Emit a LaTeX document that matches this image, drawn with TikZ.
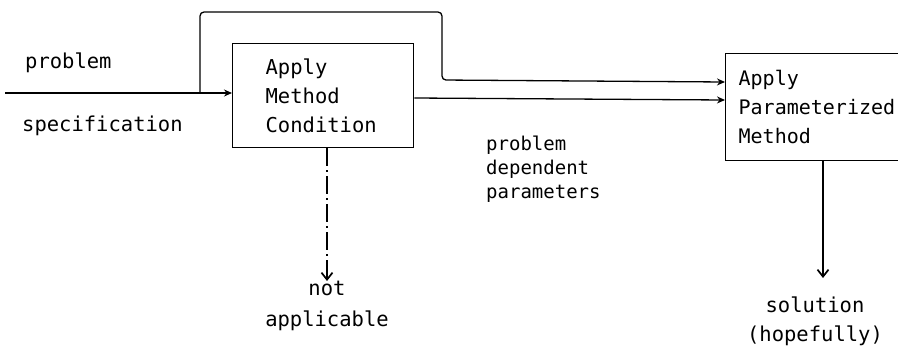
\documentclass[tikz,border=0pt]{standalone}
\usepackage{fontspec}
\setmonofont{DejaVu Sans Mono}
\usetikzlibrary{arrows.meta}
\newcommand\dgfont{\ttfamily\fontsize{20.5}{29}\selectfont}
\newcommand\dgboxtwofont{\ttfamily\fontsize{20}{29}\selectfont}
\newcommand\dgmidfont{\ttfamily\fontsize{19}{24}\selectfont}
\newcommand\dgbotfont{\ttfamily\fontsize{20.5}{31}\selectfont}
\begin{document}
\begin{tikzpicture}[x=1pt,y=-1pt,
  box/.style={draw, line width=1.3pt, rectangle, anchor=north west, align=left, font=\dgfont, inner ysep=0pt},
  lbl/.style={font=\dgfont, align=center, inner sep=0pt},
  conn/.style={line width=1.3pt, -{Stealth[length=8pt,width=7pt]}},
  outconn/.style={line width=1.3pt, -{Straight Barb[length=7pt,width=11pt,line width=1.7pt]}},
  ]
\clip (0,0) rectangle (898,346);
\fill[white] (0,0) rectangle (898,346);

% boxes
\node[box, inner xsep=33pt, text width=115pt, minimum height=104pt] (b1) at (232,43)
  {Apply\\Method\\Condition};
\node[box, font=\dgboxtwofont, inner xsep=13pt, text width=200pt, minimum height=107pt] (b2) at (725,53)
  {Apply\\Parameterized\\Method};

% labels
\node[lbl, anchor=base west] (lp) at (25,68) {problem};
\node[lbl, anchor=base west] (ls) at (22,131) {specification};
\node[font=\dgmidfont, align=left, inner sep=0pt, anchor=north west] (lm) at (486,136)
  {problem\\dependent\\parameters};
\node[lbl, font=\dgbotfont, anchor=north] (na) at (327,281) {not\\applicable};
\node[lbl, anchor=north] (sol) at (815,297) {solution\\(hopefully)};

% connectors
\coordinate (in) at (5,93);
\coordinate (fb) at (200,93);
\draw[conn] (in) -- (in -| b1.west);
\draw[conn, rounded corners=4pt] (fb) -- (200,12) -- (442,12) -- (442,80) -- (b2.west |- 0,82);
\draw[conn] (b1.east |- 0,98) -- (b2.west |- 0,100);
\draw[outconn, dash pattern=on 18pt off 4pt on 2pt off 4pt] (b1.south -| na) -- (na.north);
\draw[outconn] (b2.south -| 823,0) -- (823,278);
\end{tikzpicture}
\end{document}
